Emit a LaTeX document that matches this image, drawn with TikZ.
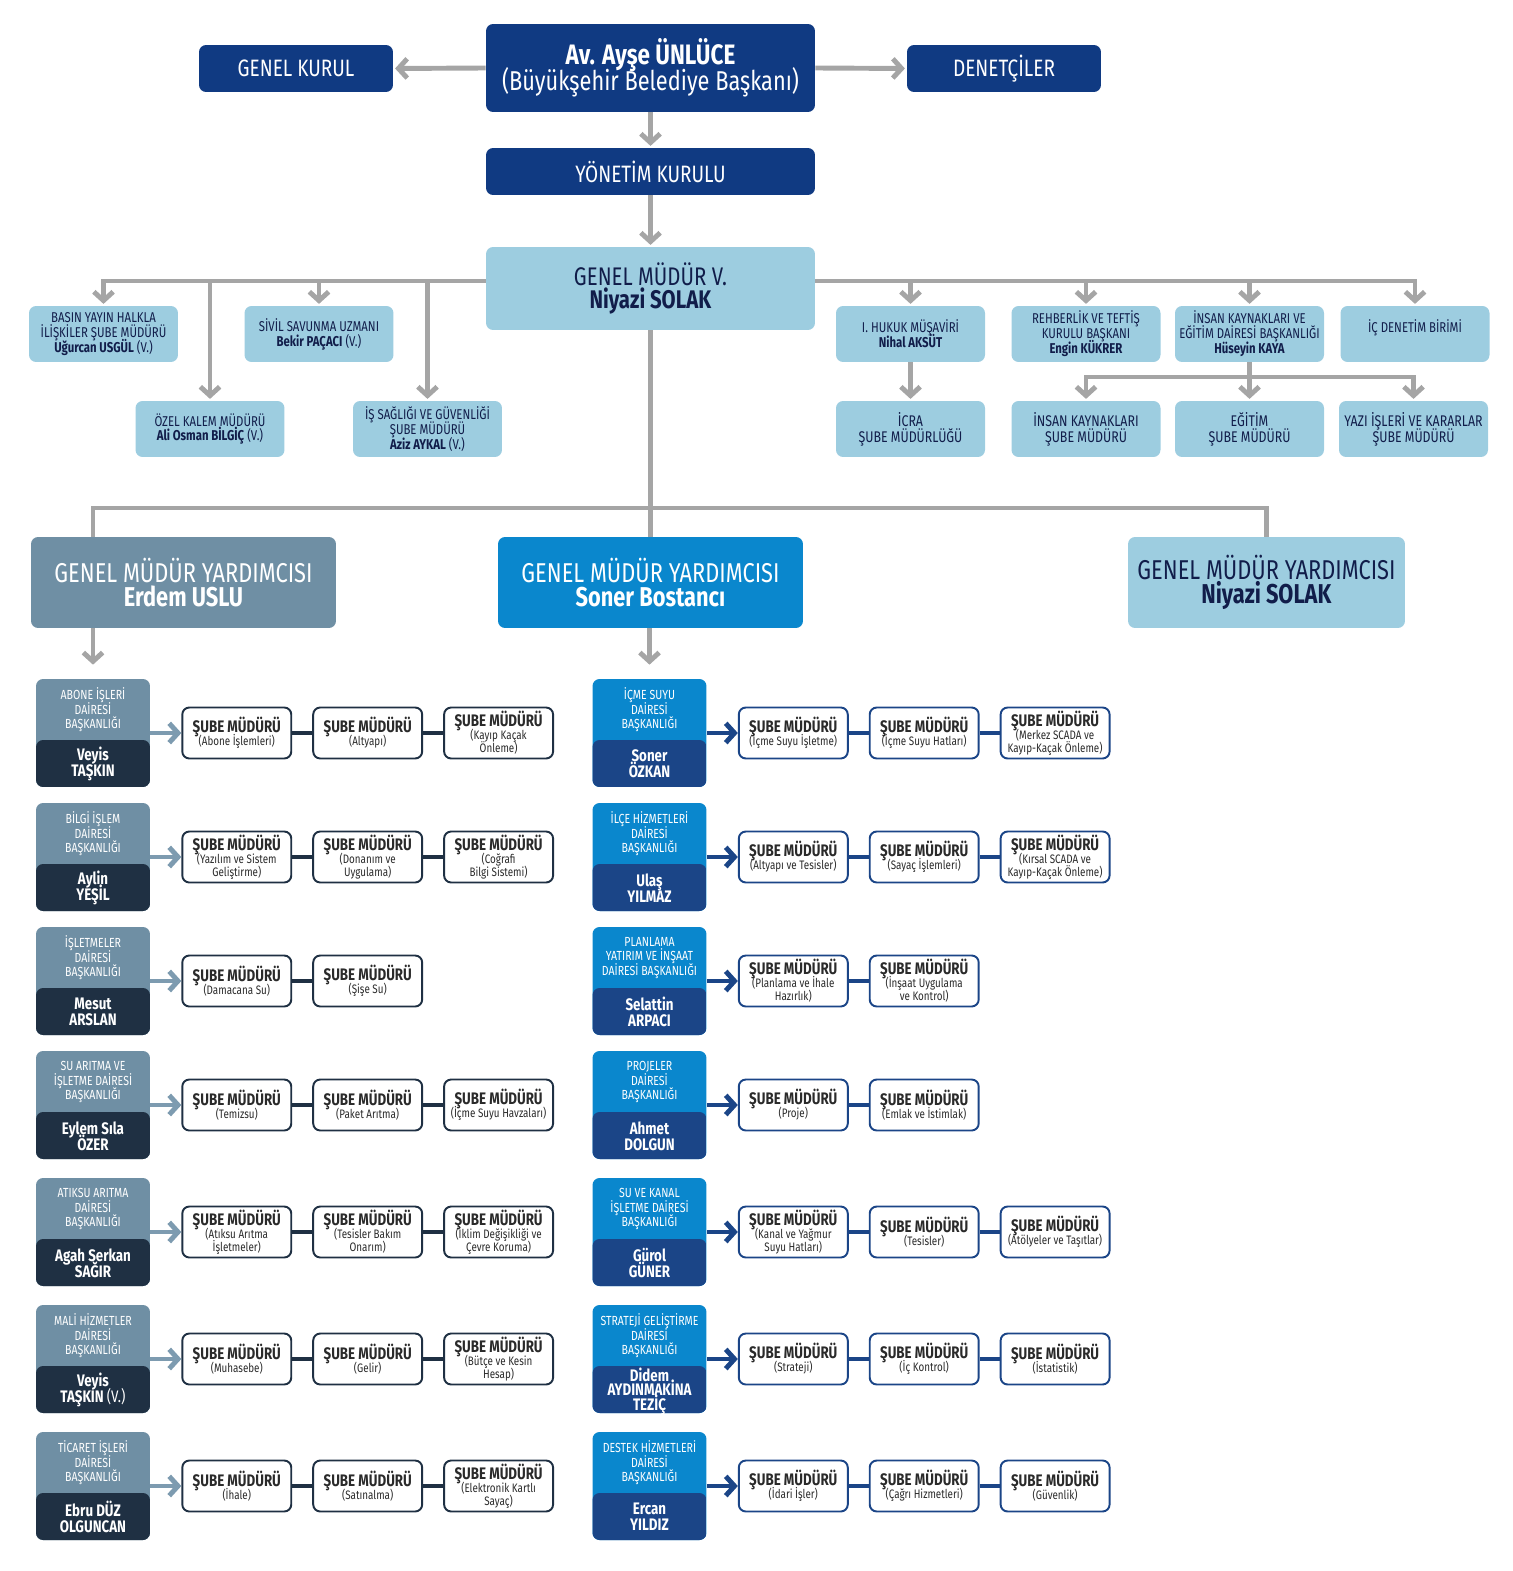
\documentclass[tikz,border=0pt]{standalone}
\usepackage{fontspec}
\setmainfont[FakeStretch=0.8]{Fira Sans}
\usepackage{tikz}
\usetikzlibrary{arrows.meta,positioning,calc}

\definecolor{navy}{HTML}{103A82}
\definecolor{lightblue}{HTML}{9DCDE0}
\definecolor{textnavy}{HTML}{111D4A}
\definecolor{linegray}{HTML}{A5A5A5}
\definecolor{slate}{HTML}{6F8FA4}
\definecolor{slatelight}{HTML}{7D9BB0}
\definecolor{slatedark}{HTML}{1F3043}
\definecolor{bright}{HTML}{0A87CD}
\definecolor{deptnavy}{HTML}{1B4587}
\definecolor{subetext}{HTML}{2A2A2A}

\newcommand{\subeBaslik}{{\bfseries\fontsize{9.5}{9}\selectfont ŞUBE MÜDÜRÜ}}

\begin{document}
\begin{tikzpicture}[x=0.02cm, y=-0.02cm, node distance=0.4cm,
    every node/.style={align=center, inner sep=1pt,
        execute at begin node={\lineskiplimit=-20pt}},
    topbox/.style={fill=navy, text=white, rounded corners=4pt,
        font=\fontsize{13.5}{15}\selectfont},
    lightbox/.style={fill=lightblue, text=textnavy, rounded corners=4pt},
    smallbox/.style={lightbox, minimum width=2.98cm, minimum height=1.12cm,
        font=\fontsize{8.1}{8.5}\selectfont},
    lowbox/.style={lightbox, minimum width=2.98cm, minimum height=1.12cm,
        font=\fontsize{8.8}{9}\selectfont},
    gmy/.style={rounded corners=4pt, minimum height=1.82cm,
        font=\fontsize{15.5}{14}\selectfont},
    deptL/.style={rounded corners=4pt, minimum width=2.28cm, minimum height=2.16cm,
        fill=slate, path picture={\fill[slatedark] (path picture bounding box.south west)
        rectangle ([yshift=0.94cm]path picture bounding box.south east);}},
    deptR/.style={rounded corners=4pt, minimum width=2.28cm, minimum height=2.16cm,
        fill=bright, path picture={\fill[deptnavy] (path picture bounding box.south west)
        rectangle ([yshift=0.94cm]path picture bounding box.south east);}},
    deptT/.style={text=white, inner sep=0pt, font=\fontsize{7.5}{8.2}\selectfont},
    deptN/.style={text=white, inner sep=0pt, font=\bfseries\fontsize{9.5}{9}\selectfont},
    subeL/.style={draw=slatedark, line width=1.1pt, fill=white, rounded corners=4pt,
        minimum width=2.18cm, minimum height=1.02cm, text=subetext,
        font=\fontsize{7}{7.4}\selectfont},
    subeR/.style={subeL, draw=deptnavy},
    conn/.style={draw=linegray, line width=2.8pt, shorten >=1pt,
        -{Straight Barb[length=5pt,width=11pt]}},
    line/.style={draw=linegray, line width=2.8pt},
    arrL/.style={draw=slatelight, line width=2.8pt, -{Straight Barb[length=5pt,width=11pt]}},
    arrR/.style={draw=deptnavy, line width=2.8pt, -{Straight Barb[length=5pt,width=11pt]}},
    linkL/.style={draw=slatedark, line width=2.8pt},
    linkR/.style={draw=deptnavy, line width=2.8pt}]

    \useasboundingbox (0,0) rectangle (1513,1571);
    \coordinate (busTop) at (0,281);
    \coordinate (busIK) at (0,377);
    \coordinate (busGMY) at (0,508);

    % top of the chart
    \node[topbox, minimum width=6.58cm, minimum height=1.76cm, font=\fontsize{15.5}{14.8}\selectfont]
        (nodeBaskan) at (650.5,68) {{\bfseries\fontsize{16}{14.8}\selectfont Av. Ayşe ÜNLÜCE}\\(Büyükşehir Belediye Başkanı)};
    \node[topbox, minimum width=3.88cm, minimum height=0.94cm] (nodeGenelKurul) at (296,68.5) {GENEL KURUL};
    \node[topbox, minimum width=3.88cm, minimum height=0.94cm] (nodeDenetci) at (1004,68.5) {DENETÇİLER};
    \node[topbox, minimum width=6.58cm, minimum height=0.94cm] (nodeYonetim) at (650.5,171.5) {YÖNETİM KURULU};
    \node[lightbox, minimum width=6.58cm, minimum height=1.66cm, font=\fontsize{14.5}{13}\selectfont]
        (nodeGM) at (650.5,288.5) {GENEL MÜDÜR V.\\\textbf{Niyazi SOLAK}};

    \node[smallbox] (nodeBasin) at (103.5,334) {BASIN YAYIN HALKLA\\İLİŞKİLER ŞUBE MÜDÜRÜ\\\textbf{Uğurcan USGÜL} (V.)};
    \node[smallbox] (nodeSivil) at (319,334) {SİVİL SAVUNMA UZMANI\\\textbf{Bekir PAÇACI} (V.)};
    \node[smallbox] (nodeOzel) at (210,429) {ÖZEL KALEM MÜDÜRÜ\\\textbf{Ali Osman BİLGİÇ} (V.)};
    \node[smallbox] (nodeIsSag) at (427.5,429) {İŞ SAĞLIĞI VE GÜVENLİĞİ\\ŞUBE MÜDÜRÜ\\\textbf{Aziz AYKAL} (V.)};
    \node[smallbox] (nodeHukuk) at (910.5,334) {I. HUKUK MÜŞAVİRİ\\\textbf{Nihal AKSÜT}};
    \node[smallbox] (nodeRehber) at (1086,334) {REHBERLİK VE TEFTİŞ\\KURULU BAŞKANI\\\textbf{Engin KÜKRER}};
    \node[smallbox] (nodeIK) at (1249.5,334) {İNSAN KAYNAKLARI VE\\EĞİTİM DAİRESİ BAŞKANLIĞI\\\textbf{Hüseyin KAYA}};
    \node[smallbox] (nodeDenetim) at (1415,334) {İÇ DENETİM BİRİMİ\\\mbox{}};
    \node[lowbox] (nodeIcra) at (910.5,429) {İCRA\\ŞUBE MÜDÜRLÜĞÜ};
    \node[lowbox] (nodeIKSube) at (1086,429) {İNSAN KAYNAKLARI\\ŞUBE MÜDÜRÜ};
    \node[lowbox] (nodeEgitim) at (1249.5,429) {EĞİTİM\\ŞUBE MÜDÜRÜ};
    \node[lowbox] (nodeYazi) at (1413.5,429) {YAZI İŞLERİ VE KARARLAR\\ŞUBE MÜDÜRÜ};

    \draw[conn] (nodeBaskan.west) -- (nodeGenelKurul.east);
    \draw[conn] (nodeBaskan.east) -- (nodeDenetci.west);
    \draw[conn] (nodeBaskan.south) -- (nodeYonetim.north);
    \draw[conn] (nodeYonetim.south) -- (nodeGM.north);
    \draw[conn] (nodeGM.west |- busTop) -| (nodeBasin.north);
    \draw[conn] (nodeOzel.north |- busTop) -- (nodeOzel.north);
    \draw[conn] (nodeSivil.north |- busTop) -- (nodeSivil.north);
    \draw[conn] (nodeIsSag.north |- busTop) -- (nodeIsSag.north);
    \draw[conn] (nodeGM.east |- busTop) -| (nodeDenetim.north);
    \draw[conn] (nodeHukuk.north |- busTop) -- (nodeHukuk.north);
    \draw[conn] (nodeRehber.north |- busTop) -- (nodeRehber.north);
    \draw[conn] (nodeIK.north |- busTop) -- (nodeIK.north);
    \draw[conn] (nodeHukuk.south) -- (nodeIcra.north);
    \draw[conn] (nodeIK.south) -- (nodeEgitim.north);
    \draw[conn] (nodeIK.south |- busIK) -| (nodeIKSube.north);
    \draw[conn] (nodeIK.south |- busIK) -| (nodeYazi.north);

    % genel mudur yardimcilari
    \node[gmy, fill=slate, text=white, minimum width=6.1cm] (nodeGMY1) at (183.5,582.5) {GENEL MÜDÜR YARDIMCISI\\\textbf{Erdem USLU}};
    \node[gmy, fill=bright, text=white, minimum width=6.1cm] (nodeGMY2) at (650.5,582.5) {GENEL MÜDÜR YARDIMCISI\\\textbf{Soner Bostancı}};
    \node[gmy, fill=lightblue, text=textnavy, minimum width=5.54cm] (nodeGMY3) at (1266.5,582.5) {GENEL MÜDÜR YARDIMCISI\\\textbf{Niyazi SOLAK}};

    % left column
    \node[deptL] (nodeAbone) at (93,733) {};
    \node[deptT] (nodeAboneT) at ($(nodeAbone)+(0,-23)$) {ABONE İŞLERİ\\DAİRESİ\\BAŞKANLIĞI};
    \node[deptN] (nodeAboneN) at ($(nodeAbone)+(0,31)$) {Veyis\\TAŞKIN};
    \node[subeL, right=0.62cm of nodeAbone] (nodeAboneA) {\subeBaslik\\(Abone İşlemleri)};
    \node[subeL, right=of nodeAboneA] (nodeAboneB) {\subeBaslik\\(Altyapı)};
    \node[subeL, right=of nodeAboneB] (nodeAboneC) {\subeBaslik\\(Kayıp Kaçak\\Önleme)};

    \node[deptL] (nodeBilgi) at (93,857) {};
    \node[deptT] (nodeBilgiT) at ($(nodeBilgi)+(0,-23)$) {BİLGİ İŞLEM\\DAİRESİ\\BAŞKANLIĞI};
    \node[deptN] (nodeBilgiN) at ($(nodeBilgi)+(0,31)$) {Aylin\\YEŞİL};
    \node[subeL, right=0.62cm of nodeBilgi] (nodeBilgiA) {\subeBaslik\\(Yazılım ve Sistem\\Geliştirme)};
    \node[subeL, right=of nodeBilgiA] (nodeBilgiB) {\subeBaslik\\(Donanım ve\\Uygulama)};
    \node[subeL, right=of nodeBilgiB] (nodeBilgiC) {\subeBaslik\\(Coğrafi\\Bilgi Sistemi)};

    \node[deptL] (nodeIsletme) at (93,981) {};
    \node[deptT] (nodeIsletmeT) at ($(nodeIsletme)+(0,-23)$) {İŞLETMELER\\DAİRESİ\\BAŞKANLIĞI};
    \node[deptN] (nodeIsletmeN) at ($(nodeIsletme)+(0,31)$) {Mesut\\ARSLAN};
    \node[subeL, right=0.62cm of nodeIsletme] (nodeIsletmeA) {\subeBaslik\\(Damacana Su)};
    \node[subeL, right=of nodeIsletmeA] (nodeIsletmeB) {\subeBaslik\\(Şişe Su)};

    \node[deptL] (nodeSuAritma) at (93,1105) {};
    \node[deptT] (nodeSuAritmaT) at ($(nodeSuAritma)+(0,-23)$) {SU ARITMA VE\\İŞLETME DAİRESİ\\BAŞKANLIĞI};
    \node[deptN] (nodeSuAritmaN) at ($(nodeSuAritma)+(0,31)$) {Eylem Sıla\\ÖZER};
    \node[subeL, right=0.62cm of nodeSuAritma] (nodeSuAritmaA) {\subeBaslik\\(Temizsu)};
    \node[subeL, right=of nodeSuAritmaA] (nodeSuAritmaB) {\subeBaslik\\(Paket Arıtma)};
    \node[subeL, right=of nodeSuAritmaB] (nodeSuAritmaC) {\subeBaslik\\(İçme Suyu Havzaları)};

    \node[deptL] (nodeAtiksu) at (93,1232) {};
    \node[deptT] (nodeAtiksuT) at ($(nodeAtiksu)+(0,-23)$) {ATIKSU ARITMA\\DAİRESİ\\BAŞKANLIĞI};
    \node[deptN] (nodeAtiksuN) at ($(nodeAtiksu)+(0,31)$) {Agah Serkan\\SAĞIR};
    \node[subeL, right=0.62cm of nodeAtiksu] (nodeAtiksuA) {\subeBaslik\\(Atıksu Arıtma\\İşletmeler)};
    \node[subeL, right=of nodeAtiksuA] (nodeAtiksuB) {\subeBaslik\\(Tesisler Bakım\\Onarım)};
    \node[subeL, right=of nodeAtiksuB] (nodeAtiksuC) {\subeBaslik\\(İklim Değişikliği ve\\Çevre Koruma)};

    \node[deptL] (nodeMali) at (93,1359) {};
    \node[deptT] (nodeMaliT) at ($(nodeMali)+(0,-23)$) {MALİ HİZMETLER\\DAİRESİ\\BAŞKANLIĞI};
    \node[deptN] (nodeMaliN) at ($(nodeMali)+(0,31)$) {Veyis\\TAŞKIN {\mdseries(V.)}};
    \node[subeL, right=0.62cm of nodeMali] (nodeMaliA) {\subeBaslik\\(Muhasebe)};
    \node[subeL, right=of nodeMaliA] (nodeMaliB) {\subeBaslik\\(Gelir)};
    \node[subeL, right=of nodeMaliB] (nodeMaliC) {\subeBaslik\\(Bütçe ve Kesin\\Hesap)};

    \node[deptL] (nodeTicaret) at (93,1486) {};
    \node[deptT] (nodeTicaretT) at ($(nodeTicaret)+(0,-23)$) {TİCARET İŞLERİ\\DAİRESİ\\BAŞKANLIĞI};
    \node[deptN] (nodeTicaretN) at ($(nodeTicaret)+(0,31)$) {Ebru DÜZ\\OLGUNCAN};
    \node[subeL, right=0.62cm of nodeTicaret] (nodeTicaretA) {\subeBaslik\\(İhale)};
    \node[subeL, right=of nodeTicaretA] (nodeTicaretB) {\subeBaslik\\(Satınalma)};
    \node[subeL, right=of nodeTicaretB] (nodeTicaretC) {\subeBaslik\\(Elektronik Kartlı\\Sayaç)};

    % right column
    \node[deptR] (nodeIcme) at (649.5,733) {};
    \node[deptT] (nodeIcmeT) at ($(nodeIcme)+(0,-23)$) {İÇME SUYU\\DAİRESİ\\BAŞKANLIĞI};
    \node[deptN] (nodeIcmeN) at ($(nodeIcme)+(0,31)$) {Soner\\ÖZKAN};
    \node[subeR, right=0.62cm of nodeIcme] (nodeIcmeA) {\subeBaslik\\(İçme Suyu İşletme)};
    \node[subeR, right=of nodeIcmeA] (nodeIcmeB) {\subeBaslik\\(İçme Suyu Hatları)};
    \node[subeR, right=of nodeIcmeB] (nodeIcmeC) {\subeBaslik\\(Merkez SCADA ve\\Kayıp-Kaçak Önleme)};

    \node[deptR] (nodeIlce) at (649.5,857) {};
    \node[deptT] (nodeIlceT) at ($(nodeIlce)+(0,-23)$) {İLÇE HİZMETLERİ\\DAİRESİ\\BAŞKANLIĞI};
    \node[deptN] (nodeIlceN) at ($(nodeIlce)+(0,31)$) {Ulaş\\YILMAZ};
    \node[subeR, right=0.62cm of nodeIlce] (nodeIlceA) {\subeBaslik\\(Altyapı ve Tesisler)};
    \node[subeR, right=of nodeIlceA] (nodeIlceB) {\subeBaslik\\(Sayaç İşlemleri)};
    \node[subeR, right=of nodeIlceB] (nodeIlceC) {\subeBaslik\\(Kırsal SCADA ve\\Kayıp-Kaçak Önleme)};

    \node[deptR] (nodePlanlama) at (649.5,981) {};
    \node[deptT] (nodePlanlamaT) at ($(nodePlanlama)+(0,-23)$) {PLANLAMA\\YATIRIM VE İNŞAAT\\DAİRESİ BAŞKANLIĞI};
    \node[deptN] (nodePlanlamaN) at ($(nodePlanlama)+(0,31)$) {Selattin\\ARPACI};
    \node[subeR, right=0.62cm of nodePlanlama] (nodePlanlamaA) {\subeBaslik\\(Planlama ve İhale\\Hazırlık)};
    \node[subeR, right=of nodePlanlamaA] (nodePlanlamaB) {\subeBaslik\\(İnşaat Uygulama\\ve Kontrol)};

    \node[deptR] (nodeProje) at (649.5,1105) {};
    \node[deptT] (nodeProjeT) at ($(nodeProje)+(0,-23)$) {PROJELER\\DAİRESİ\\BAŞKANLIĞI};
    \node[deptN] (nodeProjeN) at ($(nodeProje)+(0,31)$) {Ahmet\\DOLGUN};
    \node[subeR, right=0.62cm of nodeProje] (nodeProjeA) {\subeBaslik\\(Proje)};
    \node[subeR, right=of nodeProjeA] (nodeProjeB) {\subeBaslik\\(Emlak ve İstimlak)};

    \node[deptR] (nodeKanal) at (649.5,1232) {};
    \node[deptT] (nodeKanalT) at ($(nodeKanal)+(0,-23)$) {SU VE KANAL\\İŞLETME DAİRESİ\\BAŞKANLIĞI};
    \node[deptN] (nodeKanalN) at ($(nodeKanal)+(0,31)$) {Gürol\\GÜNER};
    \node[subeR, right=0.62cm of nodeKanal] (nodeKanalA) {\subeBaslik\\(Kanal ve Yağmur\\Suyu Hatları)};
    \node[subeR, right=of nodeKanalA] (nodeKanalB) {\subeBaslik\\(Tesisler)};
    \node[subeR, right=of nodeKanalB] (nodeKanalC) {\subeBaslik\\(Atölyeler ve Taşıtlar)};

    \node[deptR] (nodeStrateji) at (649.5,1359) {};
    \node[deptT] (nodeStratejiT) at ($(nodeStrateji)+(0,-23)$) {STRATEJİ GELİŞTİRME\\DAİRESİ\\BAŞKANLIĞI};
    \node[deptN, font=\bfseries\fontsize{9.5}{8.2}\selectfont] (nodeStratejiN) at ($(nodeStrateji)+(0,32)$) {Didem\\AYDINMAKİNA\\TEZİÇ};
    \node[subeR, right=0.62cm of nodeStrateji] (nodeStratejiA) {\subeBaslik\\(Strateji)};
    \node[subeR, right=of nodeStratejiA] (nodeStratejiB) {\subeBaslik\\(İç Kontrol)};
    \node[subeR, right=of nodeStratejiB] (nodeStratejiC) {\subeBaslik\\(İstatistik)};

    \node[deptR] (nodeDestek) at (649.5,1486) {};
    \node[deptT] (nodeDestekT) at ($(nodeDestek)+(0,-23)$) {DESTEK HİZMETLERİ\\DAİRESİ\\BAŞKANLIĞI};
    \node[deptN] (nodeDestekN) at ($(nodeDestek)+(0,31)$) {Ercan\\YILDIZ};
    \node[subeR, right=0.62cm of nodeDestek] (nodeDestekA) {\subeBaslik\\(İdari İşler)};
    \node[subeR, right=of nodeDestekA] (nodeDestekB) {\subeBaslik\\(Çağrı Hizmetleri)};
    \node[subeR, right=of nodeDestekB] (nodeDestekC) {\subeBaslik\\(Güvenlik)};

    % connectors below the genel mudur
    \draw[line] (nodeGM.south) -- (nodeGMY2.north);
    \draw[line] (nodeAbone.north |- nodeGMY1.north) |- (nodeGMY3.north |- busGMY) -- (nodeGMY3.north);
    \draw[conn, shorten >=0.28cm] (nodeAbone.north |- nodeGMY1.south) -- (nodeAbone.north);
    \draw[conn, shorten >=0.28cm] (nodeIcme.north |- nodeGMY2.south) -- (nodeIcme.north);

    \draw[arrL] (nodeAbone.east) -- (nodeAboneA.west);
    \draw[arrL] (nodeBilgi.east) -- (nodeBilgiA.west);
    \draw[arrL] (nodeIsletme.east) -- (nodeIsletmeA.west);
    \draw[arrL] (nodeSuAritma.east) -- (nodeSuAritmaA.west);
    \draw[arrL] (nodeAtiksu.east) -- (nodeAtiksuA.west);
    \draw[arrL] (nodeMali.east) -- (nodeMaliA.west);
    \draw[arrL] (nodeTicaret.east) -- (nodeTicaretA.west);
    \draw[linkL] (nodeAboneA.east) -- (nodeAboneB.west) (nodeAboneB.east) -- (nodeAboneC.west);
    \draw[linkL] (nodeBilgiA.east) -- (nodeBilgiB.west) (nodeBilgiB.east) -- (nodeBilgiC.west);
    \draw[linkL] (nodeIsletmeA.east) -- (nodeIsletmeB.west);
    \draw[linkL] (nodeSuAritmaA.east) -- (nodeSuAritmaB.west) (nodeSuAritmaB.east) -- (nodeSuAritmaC.west);
    \draw[linkL] (nodeAtiksuA.east) -- (nodeAtiksuB.west) (nodeAtiksuB.east) -- (nodeAtiksuC.west);
    \draw[linkL] (nodeMaliA.east) -- (nodeMaliB.west) (nodeMaliB.east) -- (nodeMaliC.west);
    \draw[linkL] (nodeTicaretA.east) -- (nodeTicaretB.west) (nodeTicaretB.east) -- (nodeTicaretC.west);

    \draw[arrR] (nodeIcme.east) -- (nodeIcmeA.west);
    \draw[arrR] (nodeIlce.east) -- (nodeIlceA.west);
    \draw[arrR] (nodePlanlama.east) -- (nodePlanlamaA.west);
    \draw[arrR] (nodeProje.east) -- (nodeProjeA.west);
    \draw[arrR] (nodeKanal.east) -- (nodeKanalA.west);
    \draw[arrR] (nodeStrateji.east) -- (nodeStratejiA.west);
    \draw[arrR] (nodeDestek.east) -- (nodeDestekA.west);
    \draw[linkR] (nodeIcmeA.east) -- (nodeIcmeB.west) (nodeIcmeB.east) -- (nodeIcmeC.west);
    \draw[linkR] (nodeIlceA.east) -- (nodeIlceB.west) (nodeIlceB.east) -- (nodeIlceC.west);
    \draw[linkR] (nodePlanlamaA.east) -- (nodePlanlamaB.west);
    \draw[linkR] (nodeProjeA.east) -- (nodeProjeB.west);
    \draw[linkR] (nodeKanalA.east) -- (nodeKanalB.west) (nodeKanalB.east) -- (nodeKanalC.west);
    \draw[linkR] (nodeStratejiA.east) -- (nodeStratejiB.west) (nodeStratejiB.east) -- (nodeStratejiC.west);
    \draw[linkR] (nodeDestekA.east) -- (nodeDestekB.west) (nodeDestekB.east) -- (nodeDestekC.west);

\end{tikzpicture}
\end{document}
